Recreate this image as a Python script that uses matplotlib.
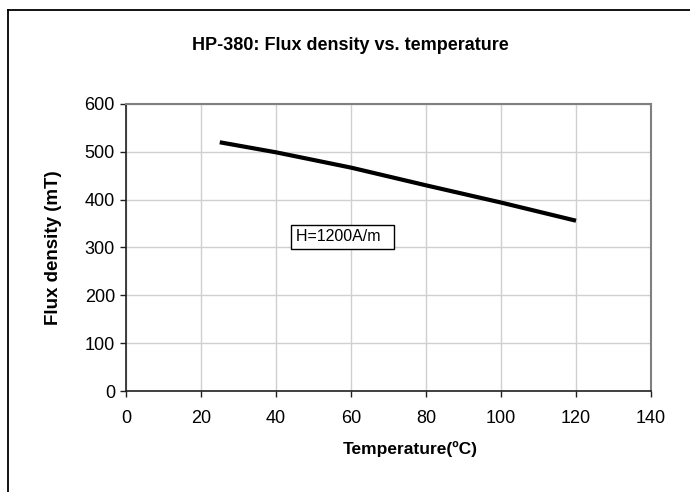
import matplotlib
matplotlib.use("Agg")
import matplotlib.pyplot as plt
from matplotlib.lines import Line2D

# data
temperature = [25, 40, 60, 80, 100, 120]
flux_density = [520, 499, 467, 430, 394, 356]
x_ticks = [0, 20, 40, 60, 80, 100, 120, 140]
y_ticks = [0, 100, 200, 300, 400, 500, 600]

plt.rcParams['font.family'] = ['Liberation Sans', 'DejaVu Sans']

W, H = 690, 492
fig = plt.figure(figsize=(W / 100, H / 100), dpi=100)
fig.patch.set_facecolor('white')

# plot area in pixels: x 126..651, y 104..391
ax = fig.add_axes([126 / W, 1 - 391 / H, (651 - 126) / W, (391 - 104) / H])
ax.plot(temperature, flux_density, color='black', lw=3, solid_capstyle='butt', zorder=3)

ax.set_xlim(0, 140)
ax.set_ylim(0, 600)
ax.set_xticks(x_ticks)
ax.set_yticks(y_ticks)
ax.grid(True, color='#d0d0d0', lw=1.0)
ax.set_axisbelow(True)

for side in ['top', 'right']:
    ax.spines[side].set_color('#808080')
    ax.spines[side].set_linewidth(1.5)
for side in ['left', 'bottom']:
    ax.spines[side].set_color('#202020')
    ax.spines[side].set_linewidth(1.2)

ax.tick_params(axis='both', direction='out', length=4, width=1, color='#202020',
               labelsize=13)
ax.tick_params(axis='y', pad=4)
ax.tick_params(axis='x', pad=10)

ax.text(45.2, 322, 'H=1200A/m  ', fontsize=11.5, va='center', ha='left',
        bbox=dict(boxstyle='square,pad=0.3', fc='white', ec='black', lw=1.0),
        zorder=4)

fig.text(350 / W, 1 - 45 / H, 'HP-380: Flux density vs. temperature',
         fontsize=13, fontweight='bold', ha='center', va='center')
fig.text(410 / W, 1 - 449 / H, 'Temperature(ºC)',
         fontsize=12.5, fontweight='bold', ha='center', va='center')
fig.text(53 / W, 1 - 248 / H, 'Flux density (mT)', rotation=90,
         fontsize=13.5, fontweight='bold', ha='center', va='center')

# chart frame (only top and left edges visible in the crop)
fig.add_artist(Line2D([8 / W, 8 / W], [0, 1 - 10 / H], transform=fig.transFigure,
                      color='black', lw=1.3))
fig.add_artist(Line2D([8 / W, 1], [1 - 10 / H, 1 - 10 / H], transform=fig.transFigure,
                      color='black', lw=1.3))

fig.savefig('out.png', dpi=100, facecolor='white')
